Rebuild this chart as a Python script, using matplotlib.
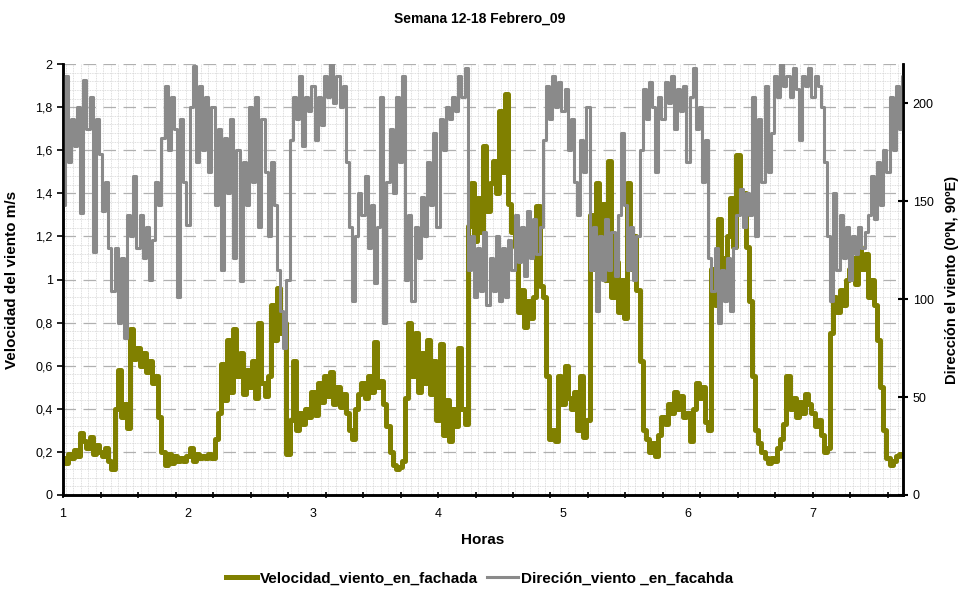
import numpy as np
import matplotlib.pyplot as plt
from matplotlib.ticker import MultipleLocator, FuncFormatter

# time axis (days, sample every 0.025)
t_start = 1.0
t_step = 0.025

# wind speed on facade (m/s)
velocidad = [
    0.17, 0.15, 0.19, 0.17, 0.21, 0.18, 0.29, 0.25,
    0.22, 0.27, 0.19, 0.23, 0.20, 0.18, 0.22, 0.16,
    0.12, 0.40, 0.58, 0.36, 0.42, 0.31, 0.77, 0.63,
    0.68, 0.60, 0.66, 0.57, 0.62, 0.52, 0.55, 0.36,
    0.20, 0.14, 0.19, 0.15, 0.18, 0.16, 0.17, 0.16,
    0.18, 0.22, 0.16, 0.19, 0.17, 0.18, 0.17, 0.19,
    0.17, 0.26, 0.38, 0.61, 0.44, 0.72, 0.48, 0.77,
    0.55, 0.66, 0.47, 0.58, 0.50, 0.62, 0.45, 0.80,
    0.52, 0.46, 0.55, 0.88, 0.72, 0.96, 0.75, 0.80,
    0.19, 0.35, 0.62, 0.30, 0.38, 0.33, 0.40, 0.36,
    0.48, 0.37, 0.52, 0.43, 0.55, 0.46, 0.57, 0.42,
    0.50, 0.41, 0.47, 0.38, 0.30, 0.26, 0.40, 0.47,
    0.52, 0.45, 0.55, 0.48, 0.71, 0.50, 0.53, 0.42,
    0.32, 0.20, 0.14, 0.12, 0.13, 0.16, 0.45, 0.80,
    0.55, 0.75, 0.48, 0.66, 0.52, 0.72, 0.47, 0.62,
    0.35, 0.70, 0.28, 0.44, 0.25, 0.40, 0.32, 0.68,
    0.40, 0.33, 1.25, 1.45, 1.18, 1.38, 1.22, 1.62,
    1.32, 1.45, 1.55, 1.40, 1.78, 1.50, 1.86, 1.35,
    1.22, 1.15, 0.85, 0.95, 0.78, 0.90, 0.82, 0.92,
    1.34, 0.97, 0.92, 0.55, 0.26, 0.30, 0.25, 0.55,
    0.42, 0.60, 0.45, 0.40, 0.48, 0.30, 0.55, 0.27,
    0.35, 1.30, 1.05, 1.45, 1.10, 1.35, 1.00, 1.55,
    0.92, 1.08, 0.85, 1.00, 0.82, 1.45, 1.05, 1.20,
    0.95, 0.62, 0.30, 0.26, 0.20, 0.24, 0.18, 0.28,
    0.36, 0.33, 0.42, 0.38, 0.48, 0.40, 0.46, 0.36,
    0.38, 0.25, 0.40, 0.52, 0.45, 0.50, 0.34, 0.30,
    1.05, 0.88, 1.28, 0.92, 1.10, 1.20, 1.38, 1.15,
    1.58, 1.38, 1.40, 1.15, 0.90, 0.55, 0.30, 0.24,
    0.20, 0.17, 0.15, 0.17, 0.16, 0.22, 0.26, 0.33,
    0.55, 0.40, 0.45, 0.36, 0.43, 0.38, 0.47, 0.42,
    0.38, 0.32, 0.35, 0.28, 0.20, 0.22, 0.75, 0.92,
    0.85, 0.95, 0.88, 1.00, 1.05, 1.10, 0.98, 1.15,
    1.05, 1.12, 0.92, 1.00, 0.88, 0.72, 0.50, 0.30,
    0.17, 0.14, 0.16, 0.18, 0.19, 0.18,
]

# wind direction (degrees)
direccion = [
    148, 214, 170, 192, 178, 198, 144, 212,
    187, 203, 124, 192, 174, 145, 160, 126,
    104, 126, 88, 121, 80, 143, 132, 163,
    126, 143, 121, 137, 110, 130, 160, 148,
    182, 209, 176, 203, 187, 101, 192, 160,
    138, 198, 219, 170, 209, 176, 203, 165,
    198, 148, 187, 115, 182, 154, 192, 121,
    176, 109, 170, 148, 198, 160, 203, 137,
    192, 165, 132, 170, 148, 115, 94, 75,
    110, 181, 203, 192, 214, 178, 203, 196,
    209, 181, 203, 189, 214, 203, 220, 200,
    214, 198, 209, 170, 137, 99, 132, 154,
    143, 163, 126, 148, 108, 137, 203, 88,
    160, 187, 154, 203, 170, 214, 110, 143,
    99, 137, 121, 152, 132, 170, 148, 185,
    137, 192, 176, 198, 192, 203, 196, 214,
    203, 218, 115, 132, 101, 126, 104, 134,
    97, 121, 104, 132, 99, 126, 101, 130,
    115, 143, 119, 137, 112, 145, 121, 141,
    123, 137, 181, 209, 192, 214, 198, 211,
    196, 207, 176, 192, 160, 143, 181, 165,
    198, 115, 137, 94, 132, 110, 141, 115,
    134, 112, 143, 185, 148, 115, 137, 110,
    132, 176, 207, 192, 211, 198, 165, 203,
    192, 211, 200, 214, 187, 207, 196, 209,
    170, 203, 218, 187, 198, 160, 181, 121,
    104, 126, 88, 115, 99, 121, 94, 126,
    143, 156, 137, 154, 143, 203, 132, 192,
    160, 209, 165, 185, 214, 203, 220, 209,
    214, 203, 218, 207, 181, 214, 209, 218,
    203, 214, 209, 198, 170, 132, 99, 154,
    115, 143, 121, 137, 110, 132, 123, 137,
    126, 134, 143, 163, 141, 170, 148, 176,
    165, 203, 176, 209, 187, 214,
]

x_labels = ["1", "2", "3", "4", "5", "6", "7"]

horas = t_start + t_step * np.arange(len(velocidad))

plt.rcParams["font.family"] = ["Liberation Sans", "DejaVu Sans"]
bold_font = {"family": ["Liberation Sans", "DejaVu Sans"], "weight": "bold"}

fig = plt.figure(figsize=(9.59, 5.89), dpi=100)
ax = fig.add_axes([0.0657, 0.1596, 0.8759, 0.7317])
ax2 = ax.twinx()

olive = "#808000"
gray = "#8a8a8a"

# step drawing gives the blocky, spiky look of the logger trace
l1, = ax.plot(horas, velocidad, color=olive, lw=3.6, drawstyle="steps-mid")
l2, = ax2.plot(horas, direccion, color=gray, lw=2.2, drawstyle="steps-mid")

ax.set_xlim(1, 7.72)
ax.set_ylim(0, 2)
ax2.set_ylim(0, 220)

# grid: fine dotted minor grid + dashed major horizontal lines
ax.xaxis.set_minor_locator(MultipleLocator(0.06))
ax.yaxis.set_minor_locator(MultipleLocator(0.04))
ax.grid(which="minor", color="#d4d4d4", lw=0.6, ls=(0, (1, 1)))
ax.grid(which="major", axis="y", color="#b0b0b0", lw=0.9, ls=(0, (10, 6)))
ax.set_axisbelow(True)

# x ticks every 0.3, labels on the whole days
ax.set_xticks(np.arange(1, 7.75, 0.3))
ax.set_xticklabels([])
for i, lab in enumerate(x_labels):
    ax.text(1 + i, -0.06, lab, ha="center", va="top", fontsize=9)
ax.tick_params(axis="x", which="major", length=4, width=1.2, direction="inout")
ax.tick_params(axis="both", which="minor", length=0)

ax.yaxis.set_major_locator(MultipleLocator(0.2))
ax.yaxis.set_major_formatter(FuncFormatter(
    lambda v, p: ("%g" % round(v, 1)).replace(".", ",")))
ax.tick_params(axis="y", length=4, width=1.2, labelsize=9, direction="out")

ax2.yaxis.set_major_locator(MultipleLocator(50))
ax2.tick_params(axis="y", length=7, width=1.5, labelsize=9, direction="inout")

for a in (ax, ax2):
    a.spines["top"].set_visible(False)
    for s in ("left", "bottom", "right"):
        a.spines[s].set_linewidth(1.8)

ax.set_ylabel("Velocidad del viento m/s", fontsize=11, labelpad=12, **bold_font)
ax2.set_ylabel("Dirección el viento (0ºN, 90ºE)", fontsize=10.5, labelpad=8,
               **bold_font)
ax.set_xlabel("Horas", fontsize=11, labelpad=22, **bold_font)
fig.text(0.5, 0.968, "Semana 12-18 Febrero_09", ha="center", va="center",
         fontsize=10, **bold_font)

fig.legend([l1, l2], ["Velocidad_viento_en_fachada", "Direción_viento _en_facahda"],
           loc="center", bbox_to_anchor=(0.5, 0.018), ncol=2, frameon=False,
           prop={"family": ["Liberation Sans", "DejaVu Sans"], "weight": "bold",
                 "size": 11},
           handlelength=2.0, handletextpad=0.2, columnspacing=0.6)

fig.savefig("out.png", dpi=100)
